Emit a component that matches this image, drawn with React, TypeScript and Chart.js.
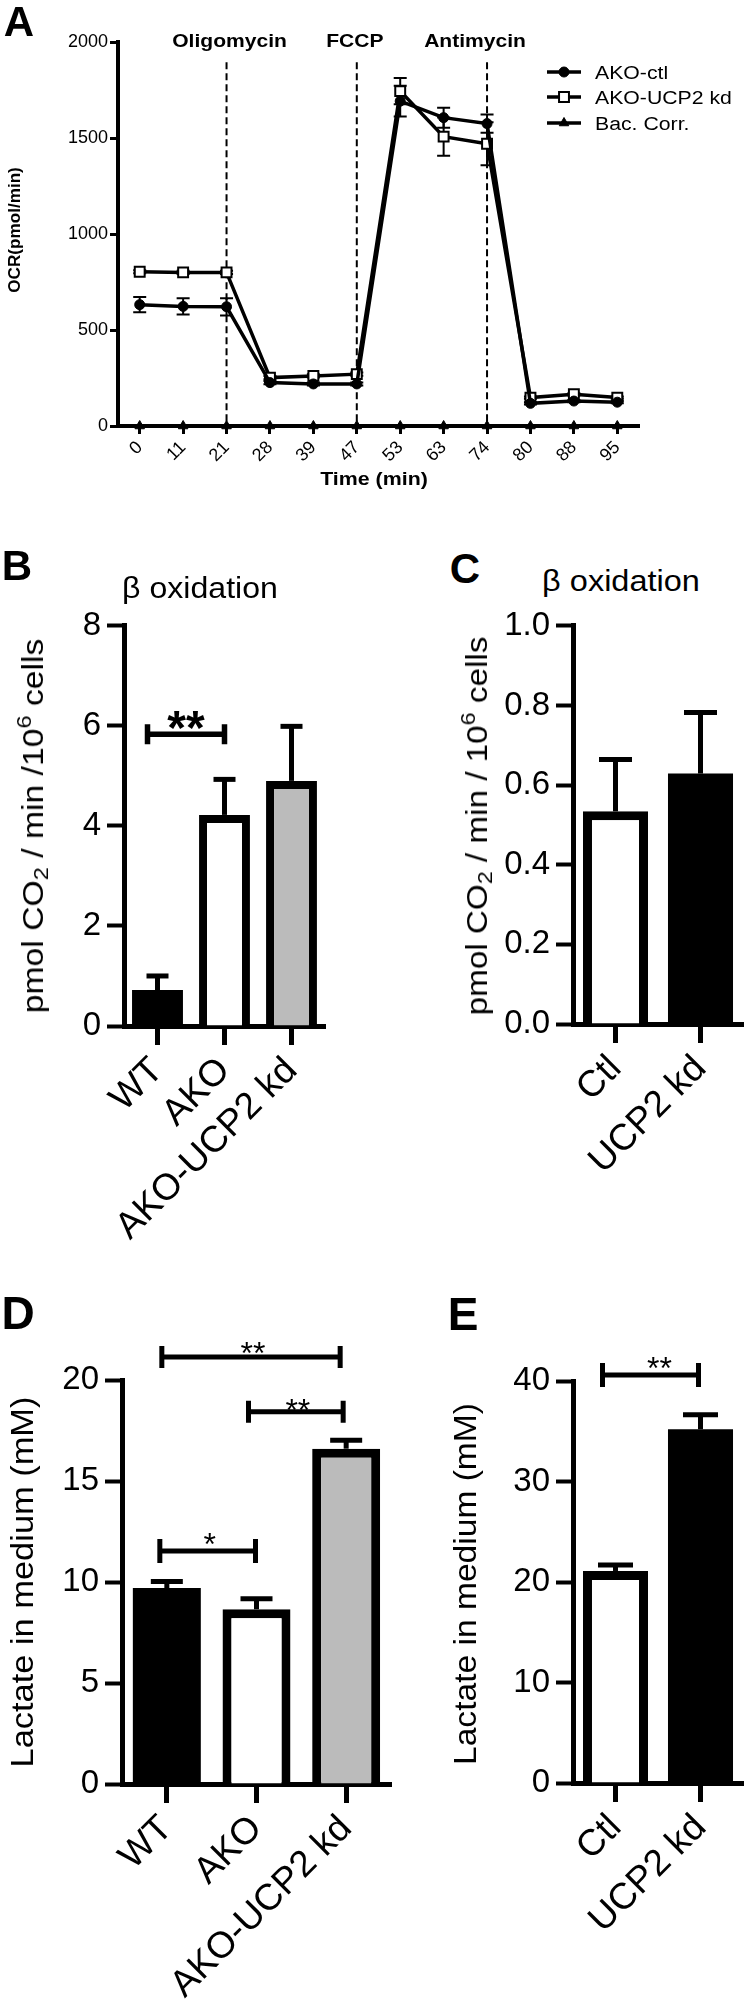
import React, { useEffect, useLayoutEffect, useRef, useState } from 'react';
import { Chart, registerables } from 'chart.js';

Chart.register(...registerables);

const FONT = '"Liberation Sans", Arial, Helvetica, sans-serif';
Chart.defaults.font.family = FONT;
Chart.defaults.color = '#000';

// ---------- Panel A data ----------
const timeLabels = ['0', '11', '21', '28', '39', '47', '53', '63', '74', '80', '88', '95'];
const akoCtl = [632, 623, 621, 226, 219, 219, 1692, 1606, 1575, 118, 130, 124];
const akoCtlErr = [40, 42, 45, 8, 8, 8, 80, 52, 48, 6, 6, 6];
const akoUcp2 = [803, 800, 800, 252, 261, 270, 1744, 1507, 1470, 148, 165, 148];
const akoUcp2Err = [8, 8, 8, 8, 8, 8, 68, 100, 112, 6, 6, 6];
const bacCorr = [0, 0, 0, 0, 0, 0, 0, 0, 0, 0, 0, 0];
const injectionIdx = [2, 5, 8];
const injectionNames = ['Oligomycin', 'FCCP', 'Antimycin'];
const injectionTop = 1895;
const aYTicks = { min: 0, max: 2000, step: 500 };

// ---------- Panel B ----------
const bCats = ['WT', 'AKO', 'AKO-UCP2 kd'];
const bMeans = [0.72, 4.22, 4.9];
const bErr = [0.28, 0.71, 1.09];
// ---------- Panel C ----------
const cCats = ['Ctl', 'UCP2 kd'];
const cMeans = [0.534, 0.629];
const cErr = [0.13, 0.153];
// ---------- Panel D ----------
const dCats = ['WT', 'AKO', 'AKO-UCP2 kd'];
const dMeans = [9.7, 8.65, 16.6];
const dErr = [0.32, 0.52, 0.42];
// ---------- Panel E ----------
const eCats = ['Ctl', 'UCP2 kd'];
const eMeans = [21.1, 35.2];
const eErr = [0.6, 1.45];

type Bracket = {
  i1: number; d1: number; i2: number; d2: number; v: number;
  text: string; tdx: number; tdy: number; size: number; bold: boolean; capH: number; lw: number;
};

const bBrackets: Bracket[] = [
  { i1: 0, d1: -10, i2: 1, d2: 0, v: 5.83, text: '**', tdx: 0, tdy: 18, size: 48, bold: true, capH: 10, lw: 5.5 },
];
const dBrackets: Bracket[] = [
  { i1: 0, d1: -5, i2: 2, d2: -6, v: 21.14, text: '**', tdx: 2, tdy: 12, size: 32, bold: false, capH: 11, lw: 5 },
  { i1: 1, d1: -8, i2: 2, d2: -3, v: 18.43, text: '**', tdx: 2, tdy: 9, size: 32, bold: false, capH: 11, lw: 5 },
  { i1: 0, d1: -7, i2: 1, d2: -1, v: 11.53, text: '*', tdx: 2, tdy: 15, size: 32, bold: false, capH: 12, lw: 5 },
];
const eBrackets: Bracket[] = [
  { i1: 0, d1: -13, i2: 1, d2: -2, v: 40.6, text: '**', tdx: 9, tdy: 15, size: 32, bold: false, capH: 12, lw: 5 },
];

function drawMarker(ctx: CanvasRenderingContext2D, style: string, x: number, y: number, r: number, fill: string, bw: number) {
  ctx.save();
  ctx.fillStyle = fill;
  ctx.strokeStyle = '#000';
  ctx.lineWidth = bw;
  ctx.beginPath();
  if (style === 'circle') {
    ctx.arc(x, y, r, 0, Math.PI * 2);
  } else if (style === 'rect') {
    const s = r / Math.SQRT2;
    ctx.rect(x - s, y - s, 2 * s, 2 * s);
  } else {
    const edge = Math.sqrt(3) * r;
    const h = edge * Math.sqrt(3) / 2;
    ctx.moveTo(x - edge / 2, y + h / 3);
    ctx.lineTo(x + edge / 2, y + h / 3);
    ctx.lineTo(x, y - (2 * h) / 3);
    ctx.closePath();
  }
  ctx.fill();
  if (bw > 0) ctx.stroke();
  ctx.restore();
}

const aPlugins = [
  {
    id: 'aBack',
    beforeDatasetsDraw(chart: any) {
      const ctx = chart.ctx as CanvasRenderingContext2D;
      const xs = chart.scales.x;
      const ys = chart.scales.y;
      ctx.save();
      ctx.strokeStyle = '#000';
      ctx.lineWidth = 2;
      ctx.setLineDash([7, 4]);
      injectionIdx.forEach((idx) => {
        const x = xs.getPixelForValue(idx);
        ctx.beginPath();
        ctx.moveTo(x, ys.getPixelForValue(injectionTop));
        ctx.lineTo(x, ys.getPixelForValue(0));
        ctx.stroke();
      });
      ctx.setLineDash([]);
      const sets = [akoCtlErr, akoUcp2Err];
      sets.forEach((errs, di) => {
        const meta = chart.getDatasetMeta(di);
        const vals = chart.data.datasets[di].data as number[];
        meta.data.forEach((pt: any, i: number) => {
          const x = pt.x;
          const yt = ys.getPixelForValue(vals[i] + errs[i]);
          const yb = ys.getPixelForValue(vals[i] - errs[i]);
          ctx.beginPath();
          ctx.moveTo(x, yt); ctx.lineTo(x, yb);
          ctx.moveTo(x - 6.5, yt); ctx.lineTo(x + 6.5, yt);
          ctx.moveTo(x - 6.5, yb); ctx.lineTo(x + 6.5, yb);
          ctx.stroke();
        });
      });
      ctx.restore();
    },
    afterDraw(chart: any) {
      const ctx = chart.ctx as CanvasRenderingContext2D;
      const xs = chart.scales.x;
      ctx.save();
      ctx.fillStyle = '#000';
      ctx.font = `bold 18px ${FONT}`;
      ctx.textAlign = 'center';
      ctx.textBaseline = 'alphabetic';
      const dx = [3, -2, -12];
      injectionIdx.forEach((idx, k) => {
        const x = xs.getPixelForValue(idx) + dx[k];
        ctx.save();
        ctx.translate(x, 46.5);
        ctx.scale(1.17, 1);
        ctx.fillText(injectionNames[k], 0, 0);
        ctx.restore();
      });
      const rows = [72, 97, 123];
      chart.data.datasets.forEach((ds: any, i: number) => {
        const y = rows[i];
        ctx.strokeStyle = '#000';
        ctx.lineWidth = 3.5;
        ctx.beginPath();
        ctx.moveTo(547, y); ctx.lineTo(581, y);
        ctx.stroke();
        drawMarker(ctx, ds.pointStyle, 564, y, ds.pointRadius, ds.pointBackgroundColor, ds.pointBorderWidth);
        ctx.save();
        ctx.translate(595, y + 6.5);
        ctx.scale(1.18, 1);
        ctx.font = `18px ${FONT}`;
        ctx.textAlign = 'left';
        ctx.fillText(ds.label, 0, 0);
        ctx.restore();
      });
      ctx.restore();
    },
  },
];

function makeLine() {
  const chartLeft = 118, chartRight = 639, chartTop = 42, chartBottom = 426, W = 746, H = 500;
  return {
    type: 'line',
    data: {
      labels: timeLabels,
      datasets: [
        { label: 'AKO-ctl', data: akoCtl, borderColor: '#000', borderWidth: 3.5, pointStyle: 'circle', pointRadius: 5, pointBackgroundColor: '#000', pointBorderColor: '#000', pointBorderWidth: 1, tension: 0, clip: false },
        { label: 'AKO-UCP2 kd', data: akoUcp2, borderColor: '#000', borderWidth: 3.5, pointStyle: 'rect', pointRadius: 7, pointBackgroundColor: '#fff', pointBorderColor: '#000', pointBorderWidth: 2, tension: 0, clip: false },
        { label: 'Bac. Corr.', data: bacCorr, borderColor: '#000', borderWidth: 3.5, pointStyle: 'triangle', pointRadius: 5.5, pointBackgroundColor: '#000', pointBorderColor: '#000', pointBorderWidth: 1, tension: 0, clip: false },
      ],
    },
    options: {
      responsive: false,
      animation: false,
      devicePixelRatio: 1,
      events: [],
      layout: { padding: { left: 0, top: chartTop, right: W - chartRight, bottom: 0 } },
      plugins: { legend: { display: false }, tooltip: { enabled: false } },
      scales: {
        x: {
          type: 'category',
          offset: true,
          grid: { offset: false, drawOnChartArea: false, drawTicks: true, tickLength: 8, tickWidth: 3, tickColor: '#000' },
          border: { display: true, color: '#000', width: 4 },
          ticks: { color: '#000', font: { family: FONT, size: 18 }, minRotation: 45, maxRotation: 45, autoSkip: false, padding: 3 },
          afterFit: (s: any) => { s.height = H - chartBottom; },
        },
        y: {
          min: aYTicks.min,
          max: aYTicks.max,
          ticks: { stepSize: aYTicks.step, color: '#000', font: { family: FONT, size: 18 }, padding: 2, callback: (v: any) => String(v) },
          grid: { drawOnChartArea: false, drawTicks: true, tickLength: 8, tickWidth: 3, tickColor: '#000' },
          border: { display: true, color: '#000', width: 4 },
          afterFit: (s: any) => { s.width = chartLeft; },
        },
      },
    },
    plugins: aPlugins,
  };
}

interface BarSpec {
  cats: string[]; means: number[]; errs: number[]; colors: string[];
  max: number; step: number; dec: number;
  W: number; H: number; cl: number; cr: number; ct: number; cb: number;
  borderW: number; barPct: number; capW: number; errLw: number; brackets: Bracket[];
}

function makeBar(sp: BarSpec) {
  const errPlugin = {
    id: 'barErr',
    afterDatasetsDraw(chart: any) {
      const ctx = chart.ctx as CanvasRenderingContext2D;
      const ys = chart.scales.y;
      const meta = chart.getDatasetMeta(0);
      ctx.save();
      ctx.strokeStyle = '#000';
      ctx.lineWidth = sp.errLw;
      meta.data.forEach((bar: any, i: number) => {
        const v = sp.means[i];
        const x = bar.x;
        const y0 = ys.getPixelForValue(v);
        const y1 = ys.getPixelForValue(v + sp.errs[i]);
        ctx.beginPath();
        ctx.moveTo(x, y0); ctx.lineTo(x, y1);
        ctx.stroke();
        ctx.beginPath();
        ctx.moveTo(x - sp.capW / 2, y1); ctx.lineTo(x + sp.capW / 2, y1);
        ctx.stroke();
      });
      ctx.restore();
    },
  };
  const brPlugin = {
    id: 'brackets',
    afterDraw(chart: any) {
      const ctx = chart.ctx as CanvasRenderingContext2D;
      const xs = chart.scales.x;
      const ys = chart.scales.y;
      ctx.save();
      ctx.strokeStyle = '#000';
      ctx.fillStyle = '#000';
      sp.brackets.forEach((b) => {
        const x1 = xs.getPixelForValue(b.i1) + b.d1;
        const x2 = xs.getPixelForValue(b.i2) + b.d2;
        const y = ys.getPixelForValue(b.v);
        ctx.lineWidth = b.lw;
        ctx.beginPath();
        ctx.moveTo(x1, y); ctx.lineTo(x2, y);
        ctx.moveTo(x1, y - b.capH); ctx.lineTo(x1, y + b.capH);
        ctx.moveTo(x2, y - b.capH); ctx.lineTo(x2, y + b.capH);
        ctx.stroke();
        ctx.font = `${b.bold ? 'bold ' : ''}${b.size}px ${FONT}`;
        ctx.textAlign = 'center';
        ctx.textBaseline = 'alphabetic';
        ctx.fillText(b.text, (x1 + x2) / 2 + b.tdx, y - b.tdy + 0.58 * b.size);
      });
      ctx.restore();
    },
  };
  return {
    type: 'bar',
    data: {
      labels: sp.cats,
      datasets: [{
        data: sp.means,
        backgroundColor: sp.colors,
        borderColor: '#000',
        borderWidth: sp.colors.map((c) => (c === '#000' ? 0 : sp.borderW)),
        borderSkipped: 'start',
        barPercentage: sp.barPct,
        categoryPercentage: 1,
      }],
    },
    options: {
      responsive: false,
      animation: false,
      devicePixelRatio: 1,
      events: [],
      layout: { padding: { left: 0, top: sp.ct, right: sp.W - sp.cr, bottom: 0 } },
      plugins: { legend: { display: false }, tooltip: { enabled: false } },
      scales: {
        x: {
          type: 'category',
          offset: true,
          grid: { offset: false, drawOnChartArea: false, drawTicks: true, tickLength: 19, tickWidth: 5, tickColor: '#000' },
          border: { display: true, color: '#000', width: 5 },
          ticks: { color: '#000', font: { family: FONT, size: 37 }, minRotation: 45, maxRotation: 45, autoSkip: false, padding: 4 },
          afterFit: (s: any) => { s.height = sp.H - sp.cb; },
        },
        y: {
          min: 0,
          max: sp.max,
          ticks: {
            stepSize: sp.step, color: '#000', font: { family: FONT, size: 33 }, padding: 6,
            callback: (v: any) => (sp.dec ? Number(v).toFixed(sp.dec) : String(v)),
          },
          grid: { drawOnChartArea: false, drawTicks: true, tickLength: 17, tickWidth: 4, tickColor: '#000' },
          border: { display: true, color: '#000', width: 5 },
          afterFit: (s: any) => { s.width = sp.cl; },
        },
      },
    },
    plugins: [errPlugin, brPlugin],
  };
}

function ChartCanvas({ left, top, width, height, make }: { left: number; top: number; width: number; height: number; make: () => any }) {
  const ref = useRef<HTMLCanvasElement>(null);
  useEffect(() => {
    if (!ref.current) return;
    const chart = new Chart(ref.current, make());
    return () => chart.destroy();
  }, []);
  return <canvas ref={ref} width={width} height={height} style={{ position: 'absolute', left, top, width, height }} />;
}

function Txt({ cx, cy, w, rot = 0, size, bold = false, children }: { cx: number; cy: number; w?: number; rot?: number; size: number; bold?: boolean; children: any }) {
  const ref = useRef<HTMLDivElement>(null);
  const [s, setS] = useState(1);
  useLayoutEffect(() => {
    if (w && ref.current) {
      const nat = ref.current.offsetWidth;
      if (nat > 0) setS(w / nat);
    }
  }, [w]);
  return (
    <div
      ref={ref}
      style={{
        position: 'absolute', left: cx, top: cy, whiteSpace: 'nowrap', lineHeight: 1,
        fontFamily: FONT, fontSize: size, fontWeight: bold ? 'bold' : 'normal', color: '#000',
        transform: `translate(-50%, -50%) rotate(${rot}deg) scaleX(${s})`, transformOrigin: 'center center',
      }}
    >
      {children}
    </div>
  );
}

const subStyle: React.CSSProperties = { fontSize: '0.7em', verticalAlign: '-0.25em', lineHeight: 0 };
const supStyle: React.CSSProperties = { fontSize: '0.7em', verticalAlign: '0.55em', lineHeight: 0 };

export default function App() {
  return (
    <div style={{ position: 'absolute', left: 0, top: 0, width: 746, height: 1999, background: '#fff', overflow: 'hidden' }}>
      <ChartCanvas left={0} top={0} width={746} height={500} make={makeLine} />
      <ChartCanvas left={0} top={600} width={400} height={650} make={() => makeBar({
        cats: bCats, means: bMeans, errs: bErr, colors: ['#000', '#fff', '#bbbbbb'], max: 8, step: 2, dec: 0,
        W: 400, H: 650, cl: 124, cr: 325, ct: 25, cb: 426, borderW: 8, barPct: 0.76, capW: 22, errLw: 5, brackets: bBrackets,
      })} />
      <ChartCanvas left={400} top={600} width={346} height={650} make={() => makeBar({
        cats: cCats, means: cMeans, errs: cErr, colors: ['#fff', '#000'], max: 1, step: 0.2, dec: 1,
        W: 346, H: 650, cl: 173, cr: 343, ct: 25, cb: 424, borderW: 9, barPct: 0.765, capW: 33, errLw: 5, brackets: [],
      })} />
      <ChartCanvas left={0} top={1300} width={400} height={699} make={() => makeBar({
        cats: dCats, means: dMeans, errs: dErr, colors: ['#000', '#fff', '#bbbbbb'], max: 20, step: 5, dec: 0,
        W: 400, H: 699, cl: 122, cr: 391, ct: 80, cb: 484, borderW: 9, barPct: 0.758, capW: 32, errLw: 5, brackets: dBrackets,
      })} />
      <ChartCanvas left={400} top={1300} width={346} height={699} make={() => makeBar({
        cats: eCats, means: eMeans, errs: eErr, colors: ['#fff', '#000'], max: 40, step: 10, dec: 0,
        W: 346, H: 699, cl: 173, cr: 343, ct: 81, cb: 483, borderW: 9, barPct: 0.765, capW: 35, errLw: 5, brackets: eBrackets,
      })} />

      {/* Panel A texts */}
      <Txt cx={19} cy={22} size={42} bold>A</Txt>
      <Txt cx={14} cy={230} w={126} rot={-90} size={17} bold>OCR(pmol/min)</Txt>
      <Txt cx={374} cy={479} w={108} size={18} bold>Time (min)</Txt>

      {/* Panel B texts */}
      <Txt cx={17} cy={566} size={42} bold>B</Txt>
      <Txt cx={200} cy={588} w={156} size={29}>β oxidation</Txt>
      <Txt cx={33} cy={826} w={374} rot={-90} size={30}>
        pmol CO<span style={subStyle}>2</span> / min /10<span style={supStyle}>6</span> cells
      </Txt>

      {/* Panel C texts */}
      <Txt cx={465} cy={569} size={42} bold>C</Txt>
      <Txt cx={621} cy={581} w={158} size={29}>β oxidation</Txt>
      <Txt cx={477} cy={826} w={379} rot={-90} size={30}>
        pmol CO<span style={subStyle}>2</span> / min / 10<span style={supStyle}>6</span> cells
      </Txt>

      {/* Panel D texts */}
      <Txt cx={18} cy={1313} size={46} bold>D</Txt>
      <Txt cx={22} cy={1582} w={371} rot={-90} size={32}>Lactate in medium (mM)</Txt>

      {/* Panel E texts */}
      <Txt cx={463} cy={1314} size={46} bold>E</Txt>
      <Txt cx={465} cy={1584} w={362} rot={-90} size={32}>Lactate in medium (mM)</Txt>
    </div>
  );
}
